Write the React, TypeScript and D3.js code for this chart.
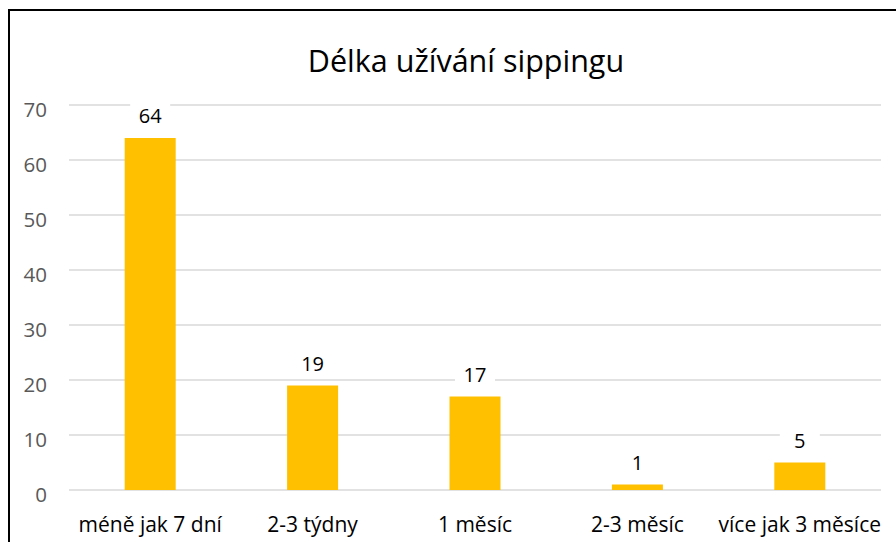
import { useEffect, useRef } from "react";
import * as d3 from "d3";

const categories = ["méně jak 7 dní", "2-3 týdny", "1 měsíc", "2-3 měsíc", "více jak 3 měsíce"];
const values = [64, 19, 17, 1, 5];
const yTicks = [0, 10, 20, 30, 40, 50, 60, 70];
const title = "Délka užívání sippingu";

export default function App() {
  const ref = useRef<SVGSVGElement>(null);

  useEffect(() => {
    if (!ref.current) return;
    const svg = d3.select(ref.current);
    svg.selectAll("*").remove();

    const font = "'Open Sans', sans-serif";
    const left = 69;
    const right = 881;
    const top = 105;
    const bottom = 490;

    // frame
    svg
      .append("rect")
      .attr("x", 9)
      .attr("y", 10)
      .attr("width", 930)
      .attr("height", 560)
      .attr("fill", "white")
      .attr("stroke", "#000")
      .attr("stroke-width", 2);

    const x = d3.scaleBand().domain(categories).range([left, right]).paddingInner(0.686).paddingOuter(0.343);
    const y = d3.scaleLinear().domain([0, 70]).range([bottom, top]);

    // grid
    svg
      .append("g")
      .selectAll("line")
      .data(yTicks)
      .enter()
      .append("line")
      .attr("x1", left)
      .attr("x2", right)
      .attr("y1", (d) => y(d))
      .attr("y2", (d) => y(d))
      .attr("stroke", "#d9d9d9")
      .attr("stroke-width", 1.5);

    // y tick labels
    svg
      .append("g")
      .selectAll("text")
      .data(yTicks)
      .enter()
      .append("text")
      .attr("x", 47)
      .attr("y", (d) => y(d) + 12)
      .attr("text-anchor", "end")
      .attr("font-family", font)
      .attr("font-size", 20.5)
      .attr("fill", "#595959")
      .text((d) => d);

    // bars
    svg
      .append("g")
      .selectAll("rect")
      .data(values)
      .enter()
      .append("rect")
      .attr("x", (d, i) => x(categories[i])!)
      .attr("y", (d) => y(d))
      .attr("width", x.bandwidth())
      .attr("height", (d) => bottom - y(d))
      .attr("fill", "#ffc000");

    // data labels with white background
    const lbl = svg
      .append("g")
      .selectAll("g")
      .data(values)
      .enter()
      .append("g")
      .attr("transform", (d, i) => `translate(${x(categories[i])! + x.bandwidth() / 2},${y(d) - 15})`);
    lbl
      .append("rect")
      .attr("x", -20)
      .attr("y", -20)
      .attr("width", 40)
      .attr("height", 26)
      .attr("fill", "white");
    lbl
      .append("text")
      .attr("text-anchor", "middle")
      .attr("font-family", font)
      .attr("font-size", 20)
      .attr("fill", "#000")
      .text((d) => d);

    // category labels
    svg
      .append("g")
      .selectAll("text")
      .data(categories)
      .enter()
      .append("text")
      .attr("x", (d) => x(d)! + x.bandwidth() / 2)
      .attr("y", 532)
      .attr("text-anchor", "middle")
      .attr("font-family", font)
      .attr("font-size", 21)
      .attr("fill", "#000")
      .text((d) => d);

    // title
    svg
      .append("text")
      .attr("x", 466)
      .attr("y", 72)
      .attr("text-anchor", "middle")
      .attr("font-family", font)
      .attr("font-size", 30.5)
      .attr("fill", "#000")
      .text(title);
  }, []);

  return (
    <svg
      ref={ref}
      width={896}
      height={542}
      style={{ position: "fixed", left: 0, top: 0, background: "white" }}
    />
  );
}
